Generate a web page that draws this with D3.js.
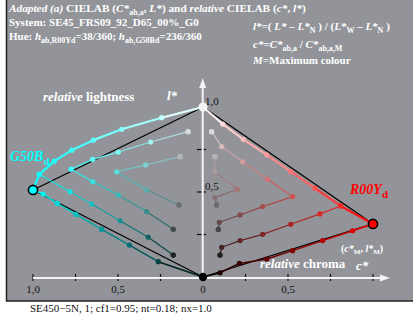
<!DOCTYPE html>
<html><head><meta charset="utf-8">
<script src="https://cdn.jsdelivr.net/npm/d3@7"></script>
<style>
body{margin:0;background:#fff}
svg{display:block}
text{font-family:"Liberation Serif","Times New Roman",serif}
</style>
</head><body>
<svg id="chart" width="413" height="315"></svg>
<script>
// ---------------- data ----------------
const hueLabels = ["G50B", "R00Y"];
const hueColors = ["#00ffff", "#ff0000"];
const hueMaxL = [0.512, 0.312];
const xTickValues = [-1, -0.75, -0.5, -0.25, 0, 0.25, 0.5, 0.75, 1];
const xTickLabels = [[-1, "1,0"], [-0.5, "0,5"], [0, "0"], [0.5, "0,5"]];
const yTickValues = [0.25, 0.5, 0.75];
const yTickLabels = [[1, "1,0"], [0.5, "0,5"]];

// G50B_d side (left): [c*, l*]
const gTopEdge = [[0,1],[0.243,0.937],[0.478,0.869],[0.645,0.805],[0.772,0.746],[0.875,0.682],[0.963,0.604],[1,0.512]];
const gBottomEdge = [[1,0.512],[0.94,0.488],[0.857,0.433],[0.747,0.368],[0.596,0.28],[0.433,0.188],[0.263,0.09],[0,0]];
const gChain1 = [[0.963,0.604],[0.782,0.502],[0.655,0.429],[0.488,0.331],[0.322,0.234],[0.175,0.129]];
const gChain2 = [[0.088,0.855],[0.308,0.794],[0.498,0.735],[0.649,0.692],[0.776,0.634],[0.649,0.561],[0.498,0.482],[0.331,0.384],[0.175,0.281]];
const gChain3 = [[0.135,0.708],[0.337,0.659],[0.508,0.619],[0.331,0.512],[0.141,0.424]];
const gGray = [[0.088,0.855],[0.135,0.708],[0.14,0.567],[0.141,0.424],[0.175,0.281],[0.175,0.129]];

// R00Y_d side (right): [c*, l*]
const rTopEdge = [[0,1],[0.116,0.9],[0.237,0.81],[0.375,0.718],[0.516,0.62],[0.659,0.522],[0.81,0.418],[1,0.312]];
const rBottomEdge = [[1,0.312],[0.88,0.272],[0.704,0.214],[0.527,0.155],[0.375,0.106],[0.214,0.08],[0.1,0.025],[0,0]];
const rChain1 = [[0.81,0.418],[0.688,0.371],[0.516,0.31],[0.351,0.251],[0.218,0.214],[0.11,0.175],[0.1,0.129]];
const rChain2 = [[0.051,0.855],[0.11,0.767],[0.233,0.678],[0.38,0.575],[0.527,0.473],[0.351,0.414],[0.218,0.365],[0.096,0.322],[0.09,0.28]];
const rChain3 = [[0.07,0.708],[0.07,0.62],[0.202,0.516],[0.07,0.467],[0.08,0.424]];
const rGray = [[0.051,0.855],[0.07,0.708],[0.08,0.567],[0.08,0.424],[0.09,0.28],[0.1,0.129]];

const sides = [
  {sign:-1, hue:0, edges:[gTopEdge, gBottomEdge], chains:[gChain1, gChain2, gChain3], gray:gGray},
  {sign: 1, hue:1, edges:[rTopEdge, rBottomEdge], chains:[rChain1, rChain2, rChain3], gray:rGray}
];

// ---------------- drawing ----------------
const svg = d3.select("#chart");
const x = d3.scaleLinear().domain([-1, 1]).range([33, 373]);
const y = d3.scaleLinear().domain([0, 1]).range([277, 107]);

svg.append("rect").attr("x", 0).attr("y", 0).attr("width", 413).attr("height", 315).attr("fill", "#ffffff");
svg.append("rect").attr("x", 6.5).attr("y", -3).attr("width", 412).attr("height", 304)
   .attr("fill", "#929499").attr("stroke", "#222").attr("stroke-width", 1.5);

function mixColor(c, l, hue) {
  const M = d3.rgb(hueColors[hue]);
  const lM = hueMaxL[hue];
  let w = Math.max(0, Math.min(1 - c, l - c * lM));
  const r = Math.min(255, c * M.r + w * 255);
  const g = Math.min(255, c * M.g + w * 255);
  const b = Math.min(255, c * M.b + w * 255);
  return d3.rgb(r, g, b);
}
const grayColor = l => d3.rgb(255 * l, 255 * l, 255 * l);

// axes
const axG = svg.append("g");
axG.selectAll(".xt").data(xTickValues).join("line")
  .attr("x1", d => x(d)).attr("x2", d => x(d)).attr("y1", 274).attr("y2", 281)
  .attr("stroke", "#111").attr("stroke-width", 1.2);
axG.append("line").attr("x1", x(-1)).attr("x2", 382).attr("y1", 278).attr("y2", 278)
  .attr("stroke", "#f4f4f4").attr("stroke-width", 2);
axG.append("path").attr("d", `M380,274.5 L390,278 L380,281.5 Z`).attr("fill", "#f4f4f4");
axG.selectAll(".xl").data(xTickLabels).join("text")
  .attr("x", d => x(d[0])).attr("y", 293).attr("text-anchor", "middle")
  .attr("font-size", 11).attr("fill", "#111").text(d => d[1]);

axG.selectAll(".yt").data(yTickValues).join("line")
  .attr("x1", 197).attr("x2", 206).attr("y1", d => y(d)).attr("y2", d => y(d))
  .attr("stroke", "#111").attr("stroke-width", 1.2);
axG.append("line").attr("x1", 202.7).attr("x2", 202.7).attr("y1", 278).attr("y2", 86)
  .attr("stroke", "#f4f4f4").attr("stroke-width", 2);
axG.append("path").attr("d", `M199.2,88 L202.7,78 L206.2,88 Z`).attr("fill", "#f4f4f4");
axG.selectAll(".yl").data(yTickLabels).join("text")
  .attr("x", 205).attr("y", d => y(d[0]) - 2).attr("font-size", 11).attr("fill", "#111").text(d => d[1]);

// black triangle edges
sides.forEach(s => {
  const M = s.edges[0][s.edges[0].length - 1];
  [[[0, 1], M], [[0, 0], M]].forEach(seg => {
    svg.append("line")
      .attr("x1", x(s.sign * seg[0][0])).attr("y1", y(seg[0][1]))
      .attr("x2", x(s.sign * seg[1][0])).attr("y2", y(seg[1][1]))
      .attr("stroke", "#000").attr("stroke-width", 1.3);
  });
});

function drawChain(s, pts, width, isEdge) {
  const g = svg.append("g");
  for (let i = 0; i < pts.length - 1; i++) {
    const a = pts[i], b = pts[i + 1];
    const ca = mixColor(a[0], a[1], s.hue), cb = mixColor(b[0], b[1], s.hue);
    const cm = d3.interpolateRgb(ca, cb)(0.5);
    g.append("line")
      .attr("x1", x(s.sign * a[0])).attr("y1", y(a[1]))
      .attr("x2", x(s.sign * b[0])).attr("y2", y(b[1]))
      .attr("stroke", d3.rgb(cm).darker(isEdge ? 0 : 0.15)).attr("stroke-width", width);
  }
  g.selectAll("circle").data(pts).join("circle")
    .attr("cx", d => x(s.sign * d[0])).attr("cy", d => y(d[1])).attr("r", 2.6)
    .attr("fill", d => mixColor(d[0], d[1], s.hue));
}

sides.forEach(s => {
  s.chains.forEach(ch => drawChain(s, ch, 1.2, false));
  drawChain(s, s.edges[1], 1.5, true);
  drawChain(s, s.edges[0], 2.2, true);
  svg.append("g").selectAll("circle").data(s.gray).join("circle")
    .attr("cx", d => x(s.sign * d[0])).attr("cy", d => y(d[1])).attr("r", 2.6)
    .attr("fill", d => grayColor(d[1]));
  const M = s.edges[0][s.edges[0].length - 1];
  svg.append("circle").attr("cx", x(s.sign * M[0])).attr("cy", y(M[1])).attr("r", 4.6)
    .attr("fill", hueColors[s.hue]).attr("stroke", "#000").attr("stroke-width", 1.6);
});
svg.append("circle").attr("cx", x(0)).attr("cy", y(1)).attr("r", 4.5).attr("fill", "#f4f4f4");
svg.append("circle").attr("cx", x(0)).attr("cy", y(0)).attr("r", 4.2).attr("fill", "#000");

// ---------------- texts ----------------
function rich(xx, yy, parts, opts) {
  const t = svg.append("text").attr("x", xx).attr("y", yy)
    .attr("font-size", opts.size).attr("font-weight", opts.weight || "bold").attr("fill", opts.fill);
  const shift = opts.shift || 3;
  let inSub = false;
  parts.forEach(p => {
    const ts = t.append("tspan").text(p.t);
    if (p.i) ts.attr("font-style", "italic");
    if (p.sub) {
      ts.attr("font-size", p.fs || Math.round(opts.size * 0.72));
      if (!inSub) ts.attr("dy", shift);
      inSub = true;
    } else {
      if (p.fs) ts.attr("font-size", p.fs);
      if (inSub) ts.attr("dy", -shift);
      inSub = false;
    }
  });
  return t;
}
const W = "#ffffff";
rich(9, 12, [
  {t: "Adapted (a)", i: 1}, {t: " CIELAB ("}, {t: "C*", i: 1}, {t: "ab,a", sub: 1}, {t: ", "},
  {t: "L*", i: 1}, {t: ") and "}, {t: "relative", i: 1}, {t: " CIELAB ("}, {t: "c*", i: 1}, {t: ", "},
  {t: "l*", i: 1}, {t: ")"}], {size: 11.3, fill: W});
rich(9, 26, [{t: "System: SE45_FRS09_92_D65_00%_G0"}], {size: 11, fill: W});
rich(9, 40, [
  {t: "Hue: "}, {t: "h", i: 1}, {t: "ab,R00Yd", sub: 1}, {t: "=38/360; "},
  {t: "h", i: 1}, {t: "ab,G50Bd", sub: 1}, {t: "=236/360"}], {size: 11, fill: W});

rich(253, 30, [
  {t: "l*", i: 1}, {t: "=( "}, {t: "L*", i: 1}, {t: " – "}, {t: "L*", i: 1}, {t: "N", sub: 1},
  {t: " ) / ("}, {t: "L*", i: 1}, {t: "W", sub: 1}, {t: " – "}, {t: "L*", i: 1},
  {t: "N", sub: 1}, {t: " )"}], {size: 11, fill: W});
rich(253, 48, [
  {t: "c*", i: 1}, {t: "="}, {t: "C*", i: 1}, {t: "ab,a", sub: 1}, {t: " / "},
  {t: "C*", i: 1}, {t: "ab,a,M", sub: 1}], {size: 11, fill: W});
rich(253, 64, [{t: "M", i: 1}, {t: "=Maximum colour"}], {size: 11, fill: W});

rich(43, 101, [{t: "relative", i: 1}, {t: " lightness"}], {size: 13, fill: W});
rich(167, 100, [{t: "l*", i: 1}], {size: 13, fill: W});
rich(10, 161, [{t: "G50B", i: 1}, {t: "d", sub: 1, fs: 11}], {size: 14, fill: hueColors[0], shift: 4});
rich(350, 194, [{t: "R00Y", i: 1}, {t: "d", sub: 1, fs: 11}], {size: 14, fill: hueColors[1], shift: 4});
rich(260, 268, [{t: "relative", i: 1}, {t: " chroma"}], {size: 13, fill: W});
rich(356, 270, [{t: "c*", i: 1}], {size: 13, fill: W});
rich(341, 252, [{t: "("}, {t: "c*", i: 1}, {t: "M", sub: 1, fs: 7}, {t: ", "},
  {t: "l*", i: 1}, {t: "M", sub: 1, fs: 7}, {t: ")"}], {size: 10, fill: W, shift: 2});

svg.append("text").attr("x", 30).attr("y", 312).attr("font-size", 11).attr("fill", "#111")
  .text("SE450−5N, 1; cf1=0.95; nt=0.18; nx=1.0");
</script>
</body></html>
